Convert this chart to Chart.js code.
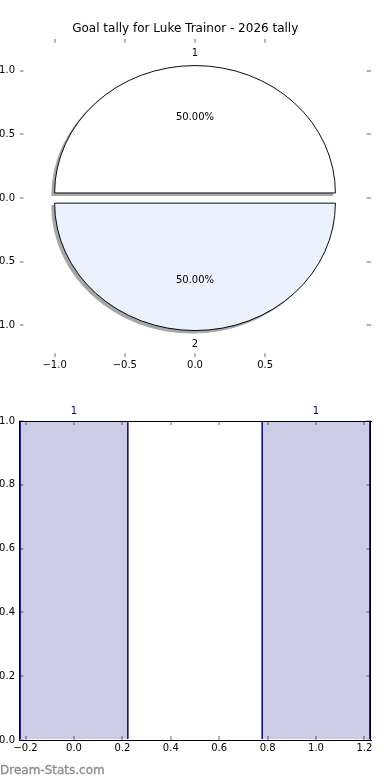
<!DOCTYPE html>
<html>
<head>
<meta charset="utf-8">
<script src="https://cdn.jsdelivr.net/npm/chart.js@4.4.1/dist/chart.umd.min.js"></script>
<style>
  html, body { margin: 0; padding: 0; background: #fff; width: 390px; height: 780px; overflow: hidden; }
  #wrap { position: relative; width: 390px; height: 780px; }
  canvas { position: absolute; display: block; }
  #axesC { left: 0; top: 0; }
  #barC { left: 0; top: 380px; }
  #mark { position: absolute; left: 0; top: 763px; font: 12px "DejaVu Sans", sans-serif; line-height: 14px; color: #8e8e8e; -webkit-text-stroke: 0.35px #8e8e8e; white-space: nowrap; }
</style>
</head>
<body>
<div id="wrap">
  <canvas id="axesC" width="390" height="380"></canvas>
  <canvas id="pieC" width="340" height="340"></canvas>
  <canvas id="barC" width="390" height="400"></canvas>
  <div id="mark">Dream-Stats.com</div>
</div>
<script>
// ---------- data ----------
const TITLE = 'Goal tally for Luke Trainor - 2026 tally';
const pieLabels = ['1', '2'];
const pieValues = [1, 1];
const pieXTicks = [-1.0, -0.5, 0.0, 0.5];
const pieYTicks = [-1.0, -0.5, 0.0, 0.5, 1.0];
const barCategories = [0, 1];
const barValues = [1, 1];
const barXTicks = [-0.2, 0.0, 0.2, 0.4, 0.6, 0.8, 1.0, 1.2];
const barYTicks = [0.0, 0.2, 0.4, 0.6, 0.8, 1.0];

// ---------- styles / ranges ----------
const PIE_LIM = 1.25;
const EXPLODE = 0.04;
const SHADOW = 0.02;
const BAR_WIDTH = 0.45;
const BAR_XMIN = -0.225, BAR_XMAX = 1.225;
const FONT = '"DejaVu Sans", sans-serif';
const TICK_COLOR = '#b4b4b4';
const NAVY = '#000080';
const PIE_COLORS = ['#ffffff', '#ebf1fd'];
const SHADOW_COLOR = '#a6a6a6';

Chart.defaults.font.family = FONT;
Chart.defaults.font.size = 10;
Chart.defaults.color = '#000';

const fmt = v => (v < -1e-9 ? '\u2212' : '') + Math.abs(v).toFixed(1);
const fixTicks = arr => s => { s.ticks = arr.map(v => ({ value: v })); };
const tickGrid = () => ({ display: true, drawOnChartArea: false, drawTicks: true, tickLength: -4, color: TICK_COLOR, lineWidth: 2 });

// ---------- pie frame axes ----------
const axesChart = new Chart(document.getElementById('axesC'), {
  type: 'scatter',
  data: { datasets: [{ data: [] }] },
  options: {
    responsive: false, animation: false, events: [],
    layout: { padding: { left: 0, right: 19.5, top: 0, bottom: 2.7 } },
    plugins: {
      legend: { display: false }, tooltip: { enabled: false },
      title: { display: true, text: TITLE, color: '#000', font: { family: FONT, size: 12, weight: 'normal' }, padding: { top: 21.6, bottom: 2.8 } }
    },
    scales: {
      x: { type: 'linear', position: 'bottom', min: -PIE_LIM, max: PIE_LIM, afterBuildTicks: fixTicks(pieXTicks), afterFit: s => { s.height = 20; },
           grid: tickGrid(), border: { display: false }, ticks: { padding: 6.5, callback: fmt, autoSkip: false, maxRotation: 0 } },
      x2: { type: 'linear', position: 'top', min: -PIE_LIM, max: PIE_LIM, afterBuildTicks: fixTicks(pieXTicks), afterFit: s => { s.height = 0; },
           grid: tickGrid(), border: { display: false }, ticks: { display: false } },
      y: { type: 'linear', position: 'left', min: -PIE_LIM, max: PIE_LIM, afterBuildTicks: fixTicks(pieYTicks), afterFit: s => { s.width = 19.5; },
           grid: tickGrid(), border: { display: false }, ticks: { padding: 8.5, callback: fmt, autoSkip: false } },
      y2: { type: 'linear', position: 'right', min: -PIE_LIM, max: PIE_LIM, afterBuildTicks: fixTicks(pieYTicks), afterFit: s => { s.width = 0; },
           grid: tickGrid(), border: { display: false }, ticks: { display: false } }
    }
  }
});

// ---------- pie (drawn on the frame's scale) ----------
const xs = axesChart.scales.x, ys = axesChart.scales.y;
const cx = xs.getPixelForValue(0), cy = ys.getPixelForValue(0);
const rx = xs.getPixelForValue(1) - cx;
const ry = cy - ys.getPixelForValue(1);
const K = ry / rx;
const pieCanvas = document.getElementById('pieC');
const PS = 340;
const ix = Math.round(cx), iy = Math.round(cy);
const fx = cx - ix, fy = cy - iy;
pieCanvas.style.left = (ix - PS / 2) + 'px';
pieCanvas.style.top = (iy - PS / 2) + 'px';
const FAR = 1000;

const pieFx = {
  id: 'pieFx',
  beforeDatasetDraw(chart) {
    const ctx = chart.ctx;
    const arcs = chart.getDatasetMeta(0).data;
    const t = EXPLODE * rx;
    const c = arcs[0];
    ctx.save();
    ctx.translate(c.x, c.y); ctx.scale(1, K); ctx.translate(-c.x, -c.y);
    arcs.forEach(a => {
      const m = (a.startAngle + a.endAngle) / 2;
      const dx = Math.cos(m) * t, dy = Math.sin(m) * t;
      ctx.save();
      ctx.translate(dx - FAR, dy);
      ctx.shadowColor = SHADOW_COLOR;
      ctx.shadowBlur = 0;
      ctx.shadowOffsetX = FAR - SHADOW * rx;
      ctx.shadowOffsetY = SHADOW * ry;
      a.draw(ctx);
      ctx.restore();
      ctx.save();
      ctx.translate(dx, dy);
      a.draw(ctx);
      ctx.restore();
    });
    ctx.restore();
    return false;
  },
  afterDatasetsDraw(chart) {
    const ctx = chart.ctx;
    const arcs = chart.getDatasetMeta(0).data;
    const total = pieValues.reduce((a, b) => a + b, 0);
    const t = EXPLODE * rx;
    ctx.save();
    ctx.font = '10px ' + FONT;
    ctx.fillStyle = '#000';
    ctx.textAlign = 'center';
    ctx.textBaseline = 'middle';
    arcs.forEach((a, i) => {
      const m = (a.startAngle + a.endAngle) / 2;
      const pt = f => [a.x + Math.cos(m) * (t + f * rx), a.y + Math.sin(m) * (t + f * rx) * K];
      let p = pt(1.1);
      ctx.fillText(pieLabels[i], p[0], p[1] + 1);
      p = pt(0.6);
      ctx.fillText((pieValues[i] / total * 100).toFixed(2) + '%', p[0], p[1] + 0.5);
    });
    ctx.restore();
  }
};

new Chart(pieCanvas, {
  type: 'pie',
  data: {
    labels: pieLabels,
    datasets: [{
      data: pieValues,
      backgroundColor: PIE_COLORS,
      borderColor: '#000',
      borderWidth: 1
    }]
  },
  options: {
    responsive: false, animation: false, events: [],
    rotation: -90,
    radius: rx,
    layout: { padding: { left: Math.max(0, 2 * fx), right: Math.max(0, -2 * fx), top: Math.max(0, 2 * fy), bottom: Math.max(0, -2 * fy) } },
    plugins: { legend: { display: false }, tooltip: { enabled: false } }
  },
  plugins: [pieFx]
});

// ---------- bar chart ----------
const barLabelPlugin = {
  id: 'barLabels',
  afterDatasetsDraw(chart) {
    const ctx = chart.ctx;
    ctx.save();
    ctx.font = '10px ' + FONT;
    ctx.fillStyle = NAVY;
    ctx.textAlign = 'center';
    ctx.textBaseline = 'middle';
    chart.getDatasetMeta(0).data.forEach((bar, i) => {
      ctx.fillText(String(barValues[i]), bar.x, bar.y - 9.5);
    });
    ctx.restore();
  }
};

const frameBorder = () => ({ display: true, color: '#000', width: 1 });
const barChart = new Chart(document.getElementById('barC'), {
  type: 'bar',
  data: {
    datasets: [{
      data: barCategories.map((c, i) => ({ x: c, y: barValues[i] })),
      backgroundColor: 'rgba(0,0,128,0.2)',
      borderColor: NAVY,
      borderWidth: { left: 1, right: 1, top: 0, bottom: 0 },
      borderSkipped: false
    }]
  },
  options: {
    responsive: false, animation: false, events: [],
    layout: { padding: { left: 0, right: 19.5, top: 41, bottom: 20 } },
    plugins: { legend: { display: false }, tooltip: { enabled: false } },
    scales: {
      x: { type: 'linear', position: 'bottom', offset: false, min: BAR_XMIN, max: BAR_XMAX, z: 1,
           afterBuildTicks: fixTicks(barXTicks), afterFit: s => { s.height = 20; },
           grid: Object.assign(tickGrid(), { offset: false }), border: frameBorder(),
           ticks: { padding: 6, callback: fmt, autoSkip: false, maxRotation: 0 } },
      x2: { type: 'linear', position: 'top', offset: false, min: BAR_XMIN, max: BAR_XMAX, z: 1,
           afterBuildTicks: fixTicks(barXTicks), afterFit: s => { s.height = 0; },
           grid: Object.assign(tickGrid(), { offset: false }), border: frameBorder(), ticks: { display: false } },
      y: { type: 'linear', position: 'left', min: 0, max: 1, z: 1,
           afterBuildTicks: fixTicks(barYTicks), afterFit: s => { s.width = 19.5; },
           grid: tickGrid(), border: frameBorder(), ticks: { padding: 8.5, callback: fmt, autoSkip: false } },
      y2: { type: 'linear', position: 'right', min: 0, max: 1, z: 1,
           afterBuildTicks: fixTicks(barYTicks), afterFit: s => { s.width = 0; },
           grid: tickGrid(), border: frameBorder(), ticks: { display: false } }
    }
  },
  plugins: [barLabelPlugin]
});
const bxs = barChart.scales.x;
barChart.data.datasets[0].barThickness = bxs.getPixelForValue(BAR_WIDTH) - bxs.getPixelForValue(0);
barChart.update('none');
</script>
</body>
</html>
